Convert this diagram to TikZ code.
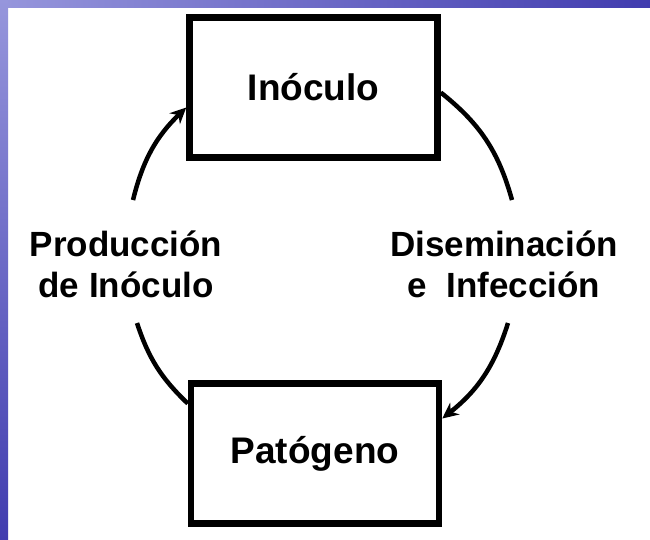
\documentclass[tikz,border=0pt]{standalone}
\usepackage{fontspec}
\setmainfont{Liberation Sans}
\usetikzlibrary{arrows.meta}
\definecolor{lavanda}{RGB}{150,150,220}
\definecolor{azulfondo}{RGB}{65,60,175}
\tikzset{
  caja/.style={draw,line width=6.5pt,minimum width=248pt,minimum height=140pt,
    font=\fontsize{37}{40}\selectfont\bfseries},
  etiqueta/.style={align=center,font=\fontsize{35}{41}\selectfont\bfseries},
  flecha/.style={line width=4.5pt},
  punta/.style={flecha,-{Stealth[length=16pt,width=15pt]}}
}
\begin{document}
\begin{tikzpicture}[x=1pt,y=-1pt]
        \useasboundingbox (0,0) rectangle (650,539);
        \fill[white] (0,0) rectangle (650,539);
        \shade[left color=lavanda,right color=azulfondo] (0,0) rectangle (650,7);
        \shade[top color=lavanda,bottom color=azulfondo] (0,0) rectangle (8,539);

        %%%%%%%%%% Nodos %%%%%%%%%%
        \node (inoculo) at (313.5,87.5) [caja] {Inóculo};
        \node (patogeno) at (315,453.5) [caja] {Patógeno};
        \node (produccion) at (126,264) [etiqueta] {Producción\\de Inóculo};
        \node (diseminacion) at (504,264) [etiqueta] {Diseminación\\e~ Infección};
        \coordinate (prodabajo) at (137,323);
        \coordinate (prodarriba) at (133,200);
        \coordinate (disarriba) at (512,200);
        \coordinate (disabajo) at (508,323);

        %%%%%%%%% Flechas %%%%%%%%%
        \draw[flecha] ([yshift=50pt]patogeno.west) to[bend left=14] (prodabajo);
        \draw[punta] (prodarriba) to[bend left=16] ([yshift=-20pt]inoculo.west);
        \draw[flecha] ([yshift=-5pt]inoculo.east) to[bend left=18] (disarriba);
        \draw[punta] (disabajo) to[bend left=17] ([yshift=35pt]patogeno.east);
    \end{tikzpicture}
\end{document}
